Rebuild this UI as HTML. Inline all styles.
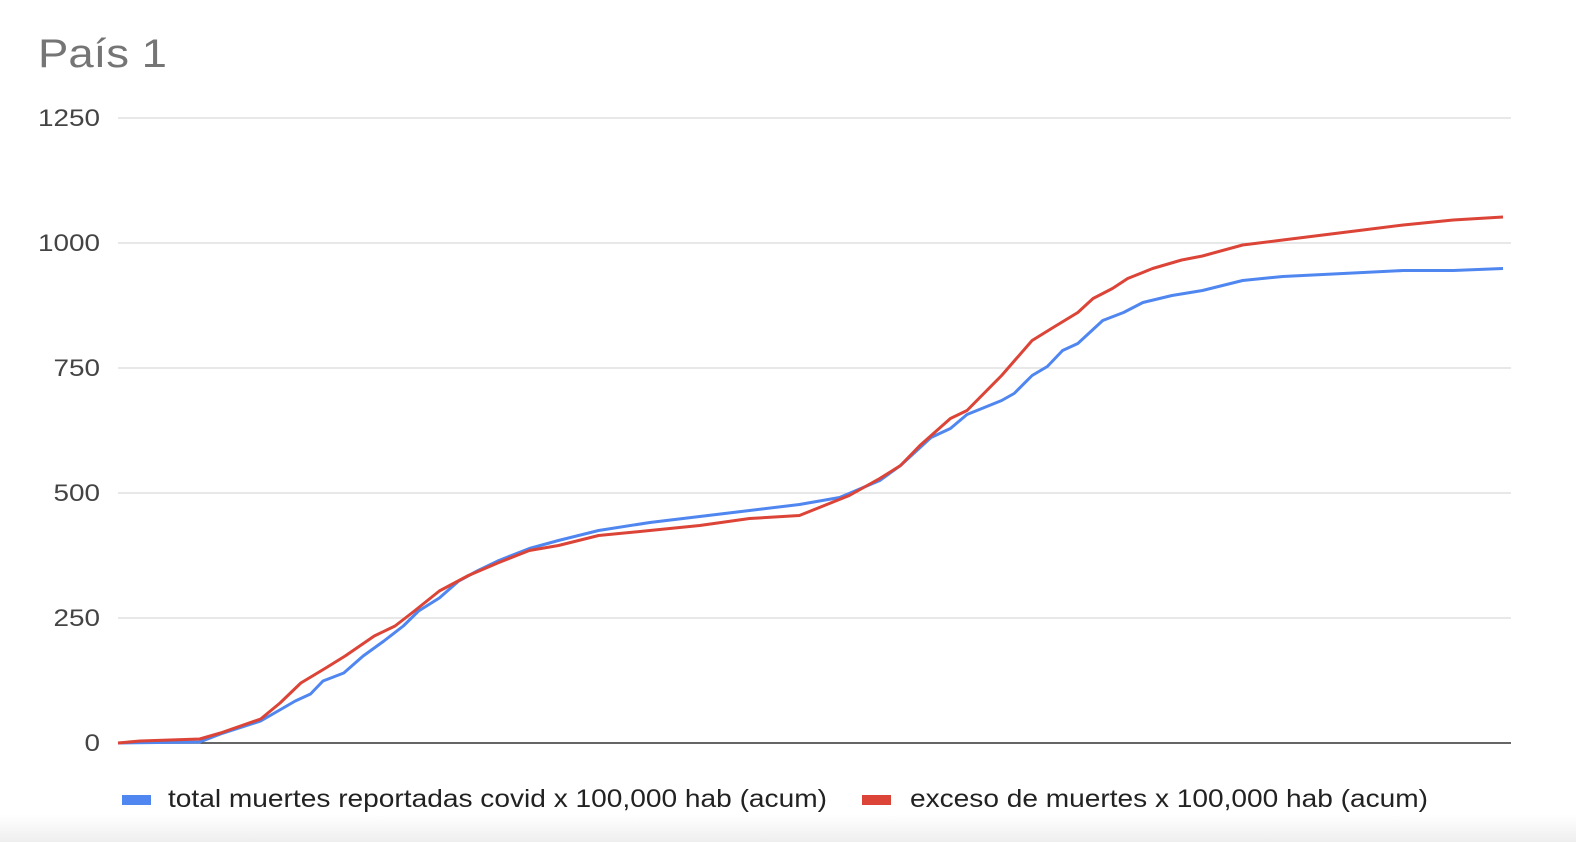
<!DOCTYPE html>
<html><head><meta charset="utf-8"><style>
body{margin:0;width:1576px;height:842px;background:#fff;overflow:hidden;font-family:"Liberation Sans",Arial,sans-serif;}
#bot{position:absolute;left:0;top:815px;width:1576px;height:27px;background:linear-gradient(#fff,#eeeeee);}
</style></head><body>
<div id="bot"></div>
<svg id="c" width="1576" height="842" style="position:absolute;left:0;top:0">
<text x="38" y="67" font-size="40" fill="#757575" textLength="129" lengthAdjust="spacingAndGlyphs">País 1</text>
<g id="grid"></g>
<g id="lines"></g>
<g>
<rect x="122" y="795" width="29" height="10" fill="#4f86f0"/>
<text x="168" y="807" font-size="25" fill="#222" textLength="659" lengthAdjust="spacingAndGlyphs">total muertes reportadas covid x 100,000 hab (acum)</text>
<rect x="862" y="795" width="29" height="10" fill="#db4437"/>
<text x="910" y="807" font-size="25" fill="#222" textLength="518" lengthAdjust="spacingAndGlyphs">exceso de muertes x 100,000 hab (acum)</text>
</g>
</svg>
<script>
const ticks=[0,250,500,750,1000,1250];
const blueDays=[0,5.9,7.4,10.3,12.8,13.9,14.8,16.3,17.7,19.2,20.6,21.7,23.2,24.6,26,27.5,29.7,31.8,34.7,38.4,42,45.6,49.2,52.1,55,56.5,58.7,60.1,61.3,63.8,64.7,66,67.1,68.2,69.3,71.1,72.6,74,76.1,78.3,81.2,84.1,87,89.9,92.8,96.4,100];
const blueVals=[0,2,18,44,84,98,124,140,174,204,234,264,290,324,345,365,389,405,425,441,453,465,477,491,525,555,611,629,657,685,699,735,753,785,799,845,861,881,895,905,925,933,937,941,945,945,949];
const redDays=[0,1.6,5.9,7.4,10.3,11.7,13.2,15,16.4,18.5,20,21.4,23.2,25.3,27.5,29.7,31.8,34.7,38.4,42,45.6,49.2,52.8,55,56.5,57.9,60.1,61.3,63.8,66,67.4,69.3,70.4,71.8,72.9,74.7,76.8,78.3,81.2,84.1,87,89.9,92.8,96.4,100];
const redVals=[0,4,8,20,48,80,120,150,174,214,234,264,304,335,361,385,395,415,425,435,449,455,495,529,555,595,649,665,735,805,829,861,889,909,929,949,966,974,996,1006,1016,1026,1036,1046,1052];
const X0=118,X1=1503,Y0=743,Y1=118;
const xs=d=>X0+(X1-X0)*d/100, ys=v=>Y0-(Y0-Y1)*v/1250;
const NS='http://www.w3.org/2000/svg';
const g=document.getElementById('grid');
ticks.forEach(t=>{
 const l=document.createElementNS(NS,'line');
 l.setAttribute('x1',118);l.setAttribute('x2',1511);l.setAttribute('y1',ys(t));l.setAttribute('y2',ys(t));
 l.setAttribute('stroke',t===0?'#333':'#d9d9d9');l.setAttribute('stroke-width',t===0?1.5:1.2);
 
 
 g.appendChild(l);
 const tx=document.createElementNS(NS,'text');
 tx.setAttribute('x',100);tx.setAttribute('y',ys(t)+8);tx.setAttribute('text-anchor','end');
 tx.setAttribute('font-size','24');tx.setAttribute('fill','#444');tx.textContent=t;
 tx.setAttribute('textLength',String(t).length*15.5);
 tx.setAttribute('lengthAdjust','spacingAndGlyphs');
 
 
 g.appendChild(tx);
});
const L=document.getElementById('lines');
function draw(days,vals,col,name){
 const p=document.createElementNS(NS,'polyline');
 p.setAttribute('points',days.map((d,i)=>xs(d)+','+ys(vals[i])).join(' '));
 p.setAttribute('fill','none');p.setAttribute('stroke',col);p.setAttribute('stroke-width',3);p.setAttribute('stroke-linejoin','round');
 
 
 L.appendChild(p);
}
draw(blueDays,blueVals,'#4f86f0','total-reported-line');
draw(redDays,redVals,'#db4437','excess-deaths-line');
</script>
</body></html>
